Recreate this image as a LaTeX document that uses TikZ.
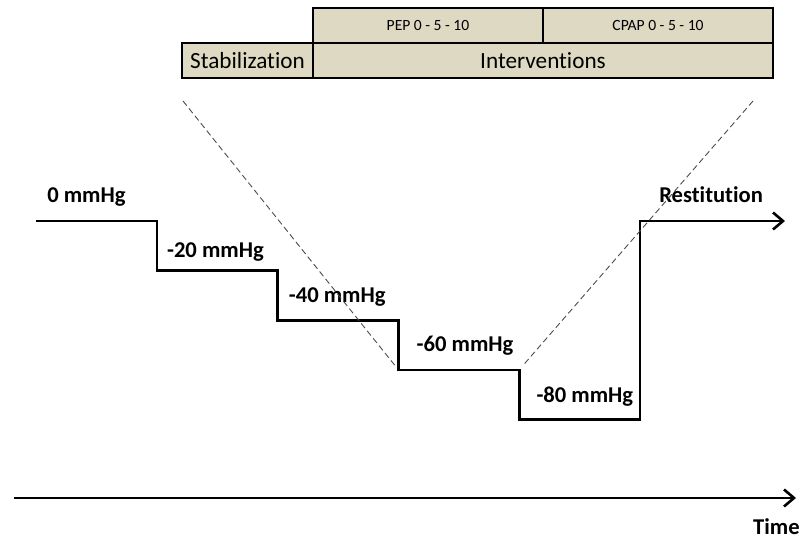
\documentclass[tikz,border=0pt]{standalone}
\usepackage{fontspec}
\setmainfont{Carlito}[Ligatures=NoCommon]
\usetikzlibrary{positioning,arrows.meta}
\definecolor{boxtan}{RGB}{221,217,195}

\begin{document}
\begin{tikzpicture}[x=1pt, y=-1pt, line width=2.6pt,
  phase/.style={draw, fill=boxtan, line width=2.4pt, outer sep=0pt, inner sep=0pt,
    minimum height=35pt, font=\fontsize{23.2}{25}\selectfont},
  subphase/.style={phase, font=\fontsize{15.6}{17}\selectfont},
  level/.style={anchor=west, inner sep=0pt, font=\bfseries\fontsize{22.6}{25}\selectfont},
  funnel/.style={line width=0.9pt, draw=black!70, dash pattern=on 6pt off 3.5pt},
  tip/.style={-{Straight Barb[length=10pt,width=17pt]}}]

  \useasboundingbox (0,0) rectangle (803,540);

  \def\stepw{120.8}
  \def\steph{49.6}

  % protocol bar
  \node[phase, minimum width=131pt] (stab) at (247.5,60.5) {Stabilization};
  \node[phase, minimum width=460pt, right=0pt of stab] (interv) {Interventions};
  \node[subphase, minimum width=230pt, anchor=south west] (pep) at (interv.north west) {PEP 0 - 5 - 10};
  \node[subphase, minimum width=230pt, right=0pt of pep] (cpap) {CPAP 0 - 5 - 10};

  % pressure steps
  \foreach \i in {0,...,4} {
    \coordinate (l\i) at ({36+\i*\stepw},{221+\i*\steph});
    \coordinate (r\i) at ({36+(\i+1)*\stepw},{221+\i*\steph});
  }
  \coordinate (restend) at (785,221);
  \draw[tip] (l0) -- (r0) -- (l1) -- (r1) -- (l2) -- (r2) -- (l3) -- (r3) -- (l4) -- (r4)
    -- (r4 |- l0) -- (restend);

  \foreach \i/\p/\dx/\dy in {0/0/10/24, 1/-20/9/19, 2/-40/10/23, 3/-60/17/24, 4/-80/16/23} {
    \node[level] (p\i) at ([xshift=\dx pt, yshift=\dy pt]l\i) {\p\ mmHg};
  }
  \node[level] (rest) at (658,195) {Restitution};

  % funnel
  \coordinate (fanl) at (183,101);
  \coordinate (fanr) at (753,101);
  \draw[funnel, shorten >=4pt] (fanl) -- (l3);
  \draw[funnel, shorten >=5pt] (fanr) -- (r3);

  % time axis
  \coordinate (t0) at (14,498);
  \coordinate (t1) at (796,498);
  \draw[tip] (t0) -- (t1);
  \node[level, anchor=east] (time) at (801,527) {Time};

\end{tikzpicture}
\end{document}
